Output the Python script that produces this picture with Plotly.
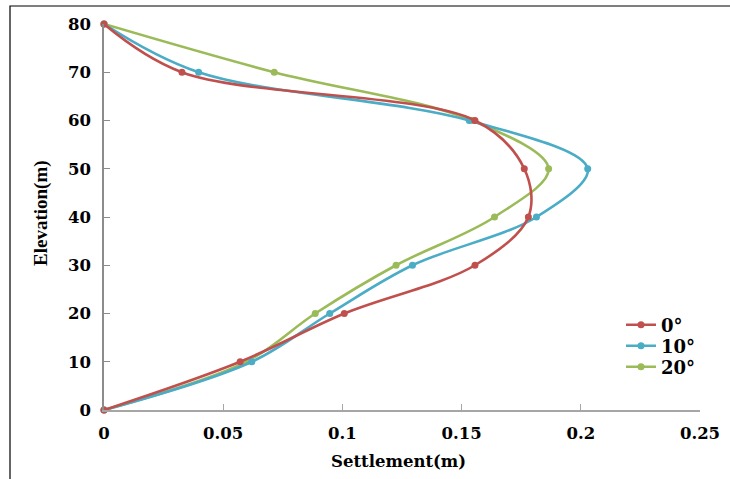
import plotly.graph_objects as go

elevation = [80, 70, 60, 50, 40, 30, 20, 10, 0]
settle_0 = [0, 0.0327, 0.1556, 0.1763, 0.1780, 0.1556, 0.1008, 0.0571, 0]
settle_10 = [0, 0.0397, 0.1532, 0.2029, 0.1814, 0.1294, 0.0947, 0.0620, 0]
settle_20 = [0, 0.0714, 0.1545, 0.1865, 0.1638, 0.1225, 0.0886, 0.0597, 0]
names = ["0°", "10°", "20°"]
colors = ["#C0504D", "#4BACC6", "#9BBB59"]
x_ticks = [0, 0.05, 0.1, 0.15, 0.2, 0.25]
x_tick_labels = ["0", "0.05", "0.1", "0.15", "0.2", "0.25"]
y_ticks = [0, 10, 20, 30, 40, 50, 60, 70, 80]

W, H = 730, 479
L, R, T, B = 104, 30, 24, 69
PW, PH = W - L - R, H - T - B


def px(x):
    return (x - L) / PW


def py(y):
    return (H - B - y) / PH


fig = go.Figure()
series = [settle_0, settle_10, settle_20]
legend_ids = ["legend", "legend2", "legend3"]
for i in [2, 1, 0]:
    fig.add_trace(go.Scatter(
        x=series[i], y=elevation, name=names[i],
        mode="lines+markers",
        line=dict(color=colors[i], width=2.6, shape="spline", smoothing=1.0),
        marker=dict(color=colors[i], size=7),
        cliponaxis=False,
        legend=legend_ids[i],
    ))

legend_font = dict(family="DejaVu Serif", size=18, color="black", weight="bold")
legend_rows = [325, 346, 367]
legend_layout = {}
for i, lid in enumerate(legend_ids):
    legend_layout[lid] = dict(
        x=px(621), y=py(legend_rows[i]), xanchor="left", yanchor="middle",
        font=legend_font, bgcolor="rgba(0,0,0,0)", itemwidth=30,
    )

tick_font = dict(family="DejaVu Serif", size=16.5, color="black", weight="bold")
fig.update_layout(
    width=W, height=H,
    margin=dict(l=L, r=R, t=T, b=B, autoexpand=False),
    paper_bgcolor="white", plot_bgcolor="white",
    font=dict(family="DejaVu Serif", color="black"),
    showlegend=True,
    xaxis=dict(
        range=[0, 0.25], tickvals=x_ticks, ticktext=x_tick_labels,
        showgrid=False, zeroline=False, automargin=False,
        showline=True, linecolor="#A6A6A6", linewidth=1.5,
        ticks="inside", ticklen=6, tickcolor="#A6A6A6", tickwidth=1.2,
        tickfont=tick_font, ticklabelstandoff=7,
    ),
    yaxis=dict(
        range=[0, 80], tickvals=y_ticks,
        showgrid=False, zeroline=False, automargin=False,
        showline=True, linecolor="#8C8C8C", linewidth=1.5,
        ticks="inside", ticklen=6, tickcolor="#8C8C8C", tickwidth=1.2,
        tickfont=tick_font, ticklabelstandoff=8,
    ),
    annotations=[
        dict(text="<b>Settlement(m)</b>", xref="paper", yref="paper",
             x=px(398), y=py(461), xanchor="center", yanchor="middle",
             showarrow=False, font=dict(family="DejaVu Serif", size=16.5, color="black")),
        dict(text="<b>Elevation(m)</b>", xref="paper", yref="paper",
             x=px(41), y=py(213), xanchor="center", yanchor="middle", textangle=-90,
             showarrow=False, font=dict(family="Liberation Serif", size=19, color="black")),
    ],
    shapes=[
        dict(type="rect", xref="paper", yref="paper",
             x0=px(10), x1=px(W + 20), y0=py(H + 20), y1=py(6),
             line=dict(color="black", width=1.2), fillcolor="rgba(0,0,0,0)", layer="below"),
    ],
    **legend_layout,
)

fig.write_html(
    "out.html",
    config={"displayModeBar": False},
    post_script="document.body.style.margin='0';document.body.style.overflow='hidden';",
)
